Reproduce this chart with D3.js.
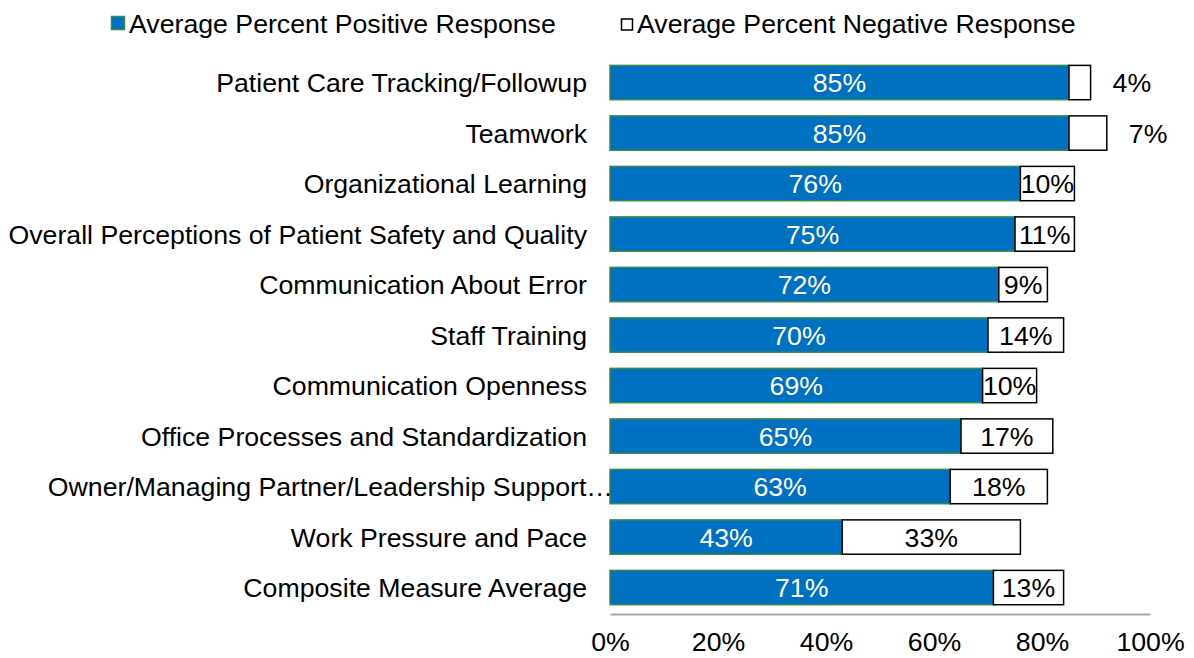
<!DOCTYPE html>
<html>
<head>
<meta charset="utf-8">
<script src="https://cdn.jsdelivr.net/npm/d3@7"></script>
<style>
  html, body { margin: 0; padding: 0; background: #fff; }
  svg { display: block; font-family: "Liberation Sans", Arial, sans-serif; }
</style>
</head>
<body>
<svg id="chart" width="1194" height="658"></svg>
<script>
// Survey composites, top to bottom
const categories = [
  "Patient Care Tracking/Followup",
  "Teamwork",
  "Organizational Learning",
  "Overall Perceptions of Patient Safety and Quality",
  "Communication About Error",
  "Staff Training",
  "Communication Openness",
  "Office Processes and Standardization",
  "Owner/Managing Partner/Leadership Support…",
  "Work Pressure and Pace",
  "Composite Measure Average"
];
const positive = [85, 85, 76, 75, 72, 70, 69, 65, 63, 43, 71];
const negative = [4, 7, 10, 11, 9, 14, 10, 17, 18, 33, 13];
const seriesNames = ["Average Percent Positive Response", "Average Percent Negative Response"];
const tickValues = [0, 20, 40, 60, 80, 100];

const svg = d3.select("#chart");
const fontSize = 26.7;

const x = d3.scaleLinear().domain([0, 100]).range([610, 1150]);
const y = d3.scaleBand().domain(categories).range([57.3, 612.8]).paddingInner(0.32).paddingOuter(0.16);

const rows = categories.map((c, i) => ({ cat: c, pos: positive[i], neg: negative[i] }));

// Positive segments
svg.append("g").selectAll("rect").data(rows).join("rect")
  .attr("x", x(0))
  .attr("y", d => y(d.cat))
  .attr("width", d => x(d.pos) - x(0))
  .attr("height", y.bandwidth())
  .attr("fill", "#0070C0")
  .attr("stroke", "#3C8A4C")
  .attr("stroke-width", 1.5);

// Negative segments
svg.append("g").selectAll("rect").data(rows).join("rect")
  .attr("x", d => x(d.pos))
  .attr("y", d => y(d.cat))
  .attr("width", d => x(d.pos + d.neg) - x(d.pos))
  .attr("height", y.bandwidth())
  .attr("fill", "#fff")
  .attr("stroke", "#000")
  .attr("stroke-width", 1.5);

// Positive value labels
svg.append("g").selectAll("text").data(rows).join("text")
  .attr("x", d => (x(0) + x(d.pos)) / 2)
  .attr("y", d => y(d.cat) + y.bandwidth() / 2)
  .attr("dy", "0.36em")
  .attr("text-anchor", "middle")
  .attr("fill", "#fff")
  .attr("font-size", fontSize)
  .text(d => d.pos + "%");

// Negative value labels: inside the segment, or past its end when too narrow
svg.append("g").selectAll("text").data(rows).join("text")
  .attr("x", d => d.neg < 8 ? x(d.pos + d.neg) + 22 : (x(d.pos) + x(d.pos + d.neg)) / 2)
  .attr("y", d => y(d.cat) + y.bandwidth() / 2)
  .attr("dy", "0.36em")
  .attr("text-anchor", d => d.neg < 8 ? "start" : "middle")
  .attr("fill", "#000")
  .attr("font-size", fontSize)
  .text(d => d.neg + "%");

// Category labels (a truncated label runs up to the bar edge)
svg.append("g").selectAll("text").data(rows).join("text")
  .attr("x", d => d.cat.endsWith("…") ? 613 : 587)
  .attr("y", d => y(d.cat) + y.bandwidth() / 2)
  .attr("dy", "0.36em")
  .attr("text-anchor", "end")
  .attr("fill", "#000")
  .attr("font-size", fontSize)
  .text(d => d.cat);

// Bottom axis
const axis = svg.append("g").attr("transform", "translate(0,614)")
  .call(d3.axisBottom(x).tickValues(tickValues).tickFormat(d => d + "%").tickSize(0).tickPadding(18));
axis.select(".domain").attr("stroke", "#A6A6A6").attr("stroke-width", 2);
axis.selectAll("text").attr("font-size", fontSize).attr("fill", "#000")
  .attr("font-family", "'Liberation Sans', Arial, sans-serif");

// Legend
const legend = svg.append("g");
legend.append("rect").attr("x", 111.5).attr("y", 16.5).attr("width", 13).attr("height", 13)
  .attr("fill", "#0070C0").attr("stroke", "#3C8A4C").attr("stroke-width", 1.5);
legend.append("text").attr("x", 129).attr("y", 23).attr("dy", "0.36em")
  .attr("font-size", fontSize).attr("fill", "#000").text(seriesNames[0]);
legend.append("rect").attr("x", 621.5).attr("y", 19).attr("width", 11).attr("height", 11)
  .attr("fill", "#fff").attr("stroke", "#000").attr("stroke-width", 1.5);
legend.append("text").attr("x", 637).attr("y", 23).attr("dy", "0.36em")
  .attr("font-size", fontSize).attr("fill", "#000").text(seriesNames[1]);
</script>
</body>
</html>
